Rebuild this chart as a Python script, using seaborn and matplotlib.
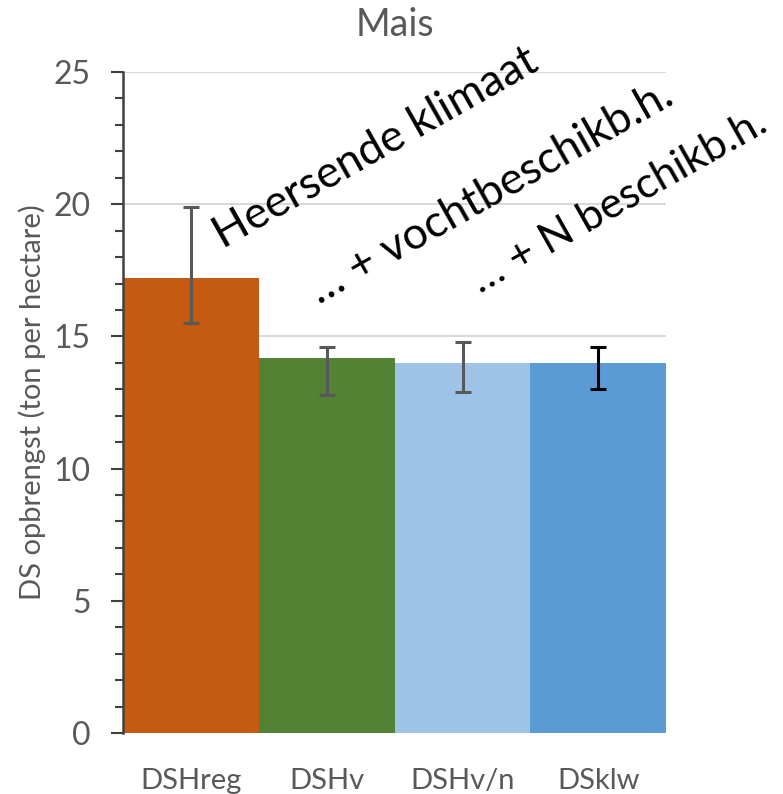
import numpy as np
import pandas as pd
import matplotlib
matplotlib.use("Agg")
import matplotlib.pyplot as plt
import seaborn as sns

# data
categories = ["DSHreg", "DSHv", "DSHv/n", "DSklw"]
yield_mean = [17.2, 14.2, 14.0, 14.0]
err_low = [15.5, 12.8, 12.9, 13.0]
err_high = [19.9, 14.6, 14.8, 14.6]
bar_colors = ["#C55A11", "#548235", "#9DC3E6", "#5B9BD5"]
err_colors = ["#595959", "#595959", "#595959", "#000000"]
notes = ["Heersende klimaat", "\u2026 + vochtbeschikb.h.", "\u2026 + N beschikb.h."]

sns.set_theme(style="white")
plt.rcParams['font.family'] = ['Lato', 'DejaVu Sans']

df = pd.DataFrame({"cat": categories, "val": yield_mean})

fig = plt.figure(figsize=(7.83, 7.94), dpi=100)
ax = fig.add_axes([0.157, 0.0768, 0.694, 0.8325])

ax.yaxis.grid(True, color="#D9D9D9", linewidth=1.5)
ax.set_axisbelow(True)

sns.barplot(data=df, x="cat", y="val", hue="cat", palette=bar_colors,
            width=1.0, legend=False, ax=ax, linewidth=0, saturation=1)

# error bars
for i in range(len(categories)):
    lo = yield_mean[i] - err_low[i]
    hi = err_high[i] - yield_mean[i]
    ax.errorbar(i, yield_mean[i], yerr=[[lo], [hi]], fmt="none",
                ecolor=err_colors[i], elinewidth=2.2, capsize=6, capthick=2.2, zorder=5)

ax.set_ylim(0, 25)
ax.set_xlim(-0.5, 3.5)
ax.set_yticks(np.arange(0, 26, 5))
ax.set_yticks(np.arange(0, 26, 1), minor=True)
ax.tick_params(axis="y", which="major", left=True, length=9, width=1.5, color="#404040",
               labelsize=23, labelcolor="#595959", pad=14)
ax.tick_params(axis="y", which="minor", left=True, length=6, width=1.5, color="#404040")
ax.tick_params(axis="x", length=0, labelsize=21, labelcolor="#595959", pad=25)

for s in ["top", "right", "bottom"]:
    ax.spines[s].set_visible(False)
ax.spines["left"].set_color("#404040")
ax.spines["left"].set_linewidth(1.8)

ax.set_xlabel("")
ax.set_ylabel("DS opbrengst (ton per hectare)", fontsize=21, color="#595959", labelpad=6)
ax.set_title("Mais", fontsize=27, color="#595959", pad=26)

# rotated annotations
note_x = [0.24, 0.94, 2.13]
note_y = [18.3, 16.2, 16.6]
note_size = [32, 32, 31]
for t, xx, yy, fs in zip(notes, note_x, note_y, note_size):
    ax.text(xx, yy, t, rotation=29.5, rotation_mode="anchor", ha="left", va="baseline",
            fontsize=fs, color="black", clip_on=False)

fig.savefig("out.png", dpi=100)
